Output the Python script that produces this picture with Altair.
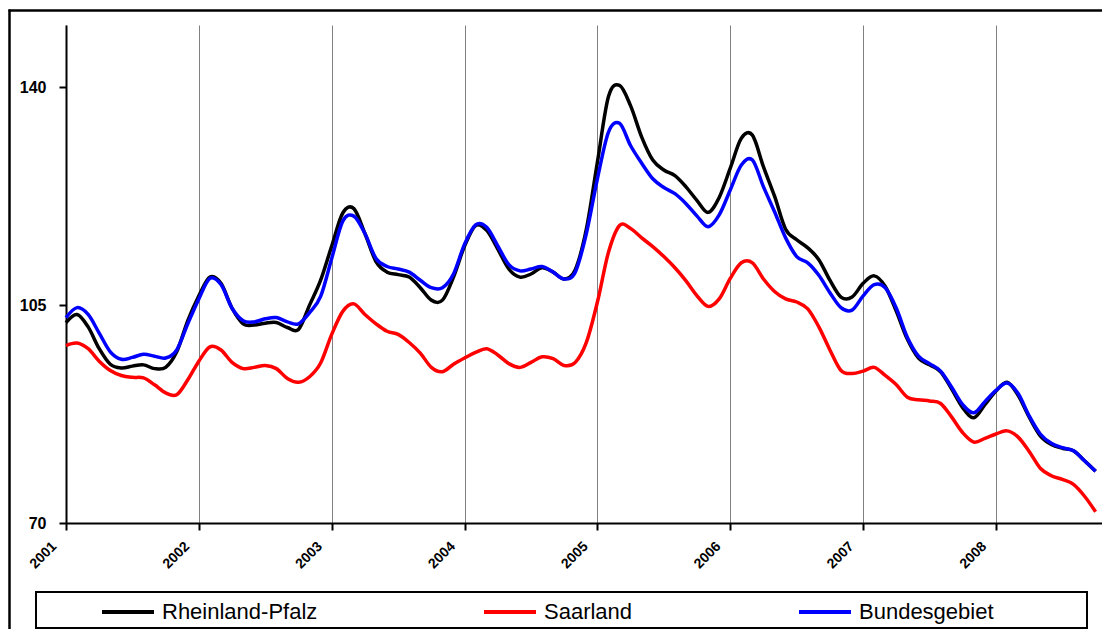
import altair as alt
import pandas as pd

# ---- data (monthly index values) ----
series_names = ["Rheinland-Pfalz", "Saarland", "Bundesgebiet"]
series_colors = ["#000000", "#ff0000", "#0000ff"]
start_year = 2001

rheinland_pfalz = [
    102.2, 103.5, 101.5, 98.0, 95.5, 94.9, 95.2, 95.4, 94.8, 95.0, 97.5, 102.5,
    106.5, 109.5, 108.5, 104.5, 102.0, 101.8, 102.1, 102.2, 101.4, 101.1, 105.0, 109.0,
    114.5, 119.8, 120.5, 116.5, 112.0, 110.3, 109.9, 109.5, 107.8, 105.8, 105.8, 109.5,
    114.5, 117.8, 117.0, 114.0, 110.8, 109.5, 110.0, 111.0, 110.3, 109.2, 110.7, 117.2,
    128.0, 138.5, 140.3, 137.0, 132.0, 128.3, 126.7, 125.8, 124.0, 121.8, 119.9, 122.3,
    127.0, 131.8, 132.3, 127.2, 122.5, 117.2, 115.5, 114.2, 112.3, 109.0, 106.3, 106.3,
    108.5, 109.7, 108.0, 104.0, 99.5, 96.5, 95.4, 94.3, 91.5, 88.5, 86.9, 89.0,
    91.2, 92.6, 90.5, 87.0, 84.0, 82.6, 82.0, 81.6, 80.0, 78.3,
]
saarland = [
    98.5, 98.9, 98.0, 96.0, 94.5, 93.7, 93.4, 93.3, 92.2, 90.9, 90.6, 93.0,
    96.0, 98.3, 97.8, 95.8, 94.8, 95.0, 95.3, 94.8, 93.2, 92.6, 93.5, 95.7,
    100.3, 104.0, 105.2, 103.5, 102.0, 100.8, 100.3, 99.0, 97.3, 95.0, 94.3, 95.5,
    96.5, 97.4, 98.0, 97.0, 95.6, 95.0, 95.8, 96.7, 96.4, 95.3, 95.8, 99.0,
    105.5, 113.5, 117.8, 117.3, 115.8, 114.4, 112.8, 111.0, 108.9, 106.5, 104.8, 106.0,
    109.3, 111.8, 111.8, 109.2, 107.2, 106.0, 105.5, 104.4, 101.5, 97.8, 94.5, 94.0,
    94.4, 95.0, 93.7, 92.2, 90.2, 89.8, 89.6, 89.2, 87.0, 84.5, 83.0, 83.6,
    84.3, 84.8, 83.8, 81.5, 78.8, 77.6, 77.0, 76.2, 74.3, 71.8,
]
bundesgebiet = [
    103.0, 104.6, 103.5, 100.5, 97.5, 96.3, 96.6, 97.1, 96.8, 96.5, 97.8, 102.0,
    106.0, 109.3, 108.3, 104.5, 102.5, 102.3, 102.8, 103.0, 102.3, 102.0, 103.8, 106.4,
    112.5, 118.5, 119.3, 116.5, 112.5, 111.2, 110.8, 110.3, 109.0, 107.8, 107.8, 110.0,
    114.8, 117.9, 117.5, 114.5, 111.5, 110.5, 110.8, 111.2, 110.3, 109.2, 110.3, 116.5,
    125.3, 132.8, 134.2, 130.6, 127.8, 125.3, 123.9, 122.9, 121.3, 119.3, 117.6, 119.5,
    123.5, 127.5, 128.3, 124.0, 120.0, 115.8, 112.8, 111.8, 109.8, 107.0, 104.6, 104.2,
    106.5, 108.3, 107.8, 104.5, 99.8, 96.8, 95.6, 94.4, 91.8, 89.0, 87.7, 89.5,
    91.3, 92.5, 90.8, 87.2, 84.3, 82.8, 82.1, 81.6, 80.0, 78.3,
]

x_ticks = [2001, 2002, 2003, 2004, 2005, 2006, 2007, 2008]
y_ticks = [70, 105, 140]

rows = []
for name, vals in zip(series_names, [rheinland_pfalz, saarland, bundesgebiet]):
    for i, v in enumerate(vals):
        rows.append({"Jahr": start_year + i / 12.0, "Index": v, "Region": name})
df = pd.DataFrame(rows)

FONT = "Liberation Sans"
PLOT_W = 1036
PLOT_H = 498
PAD_B = 106

lines = alt.Chart(df).mark_line(interpolate="cardinal", strokeWidth=3.5).encode(
    x=alt.X(
        "Jahr:Q",
        scale=alt.Scale(domain=[2001, 2008.798], nice=False, zero=False),
        axis=alt.Axis(
            values=x_ticks, format="d", title=None,
            grid=True, gridColor="#808080", gridWidth=1,
            domainColor="black", domainWidth=2,
            tickColor="black", tickWidth=2, tickSize=7,
            labelAngle=315, labelAlign="right", labelBaseline="middle",
            labelFont=FONT, labelFontSize=14, labelFontWeight="bold",
            labelColor="black", labelOffset=-12, labelPadding=14,
            labelBound=False, labelOverlap=False, labelFlush=False,
        ),
    ),
    y=alt.Y(
        "Index:Q",
        scale=alt.Scale(domain=[70, 150], nice=False, zero=False),
        axis=alt.Axis(
            values=y_ticks, title=None, grid=False,
            domainColor="black", domainWidth=2,
            tickColor="black", tickWidth=2, tickSize=7,
            labelFont=FONT, labelFontSize=16, labelFontWeight="bold",
            labelColor="black", labelPadding=13,
        ),
    ),
    color=alt.Color(
        "Region:N",
        scale=alt.Scale(domain=series_names, range=series_colors),
        sort=series_names,
        legend=alt.Legend(
            title=None, orient="none", legendX=34, legendY=559,
            direction="horizontal", symbolType="stroke",
            symbolSize=2704, symbolStrokeWidth=4,
            labelFont=FONT, labelFontSize=22, labelColor="black",
            labelOffset=6, columnPadding=158, padding=0,
        ),
    ),
)

one = pd.DataFrame({"k": [0]})
frame_top = alt.Chart(one).mark_rule(stroke="black", strokeWidth=2.5).encode(
    x=alt.value(-57.5), x2=alt.value(PLOT_W), y=alt.value(-14.5)
)
frame_left = alt.Chart(one).mark_rule(stroke="black", strokeWidth=2.5).encode(
    x=alt.value(-56.5), y=alt.value(-15.5), y2=alt.value(PLOT_H + PAD_B)
)
legend_box = alt.Chart(one).mark_rect(filled=False, stroke="black", strokeWidth=2).encode(
    x=alt.value(-30), x2=alt.value(1021), y=alt.value(567), y2=alt.value(603)
)

chart = alt.layer(frame_top, frame_left, legend_box, lines).properties(
    width=PLOT_W, height=PLOT_H,
    padding={"left": 58, "top": 17, "right": 0, "bottom": PAD_B},
    autosize=alt.AutoSizeParams(type="none"),
).configure_view(stroke=None)

chart.save("out.html", embed_options={"renderer": "svg", "actions": False})
